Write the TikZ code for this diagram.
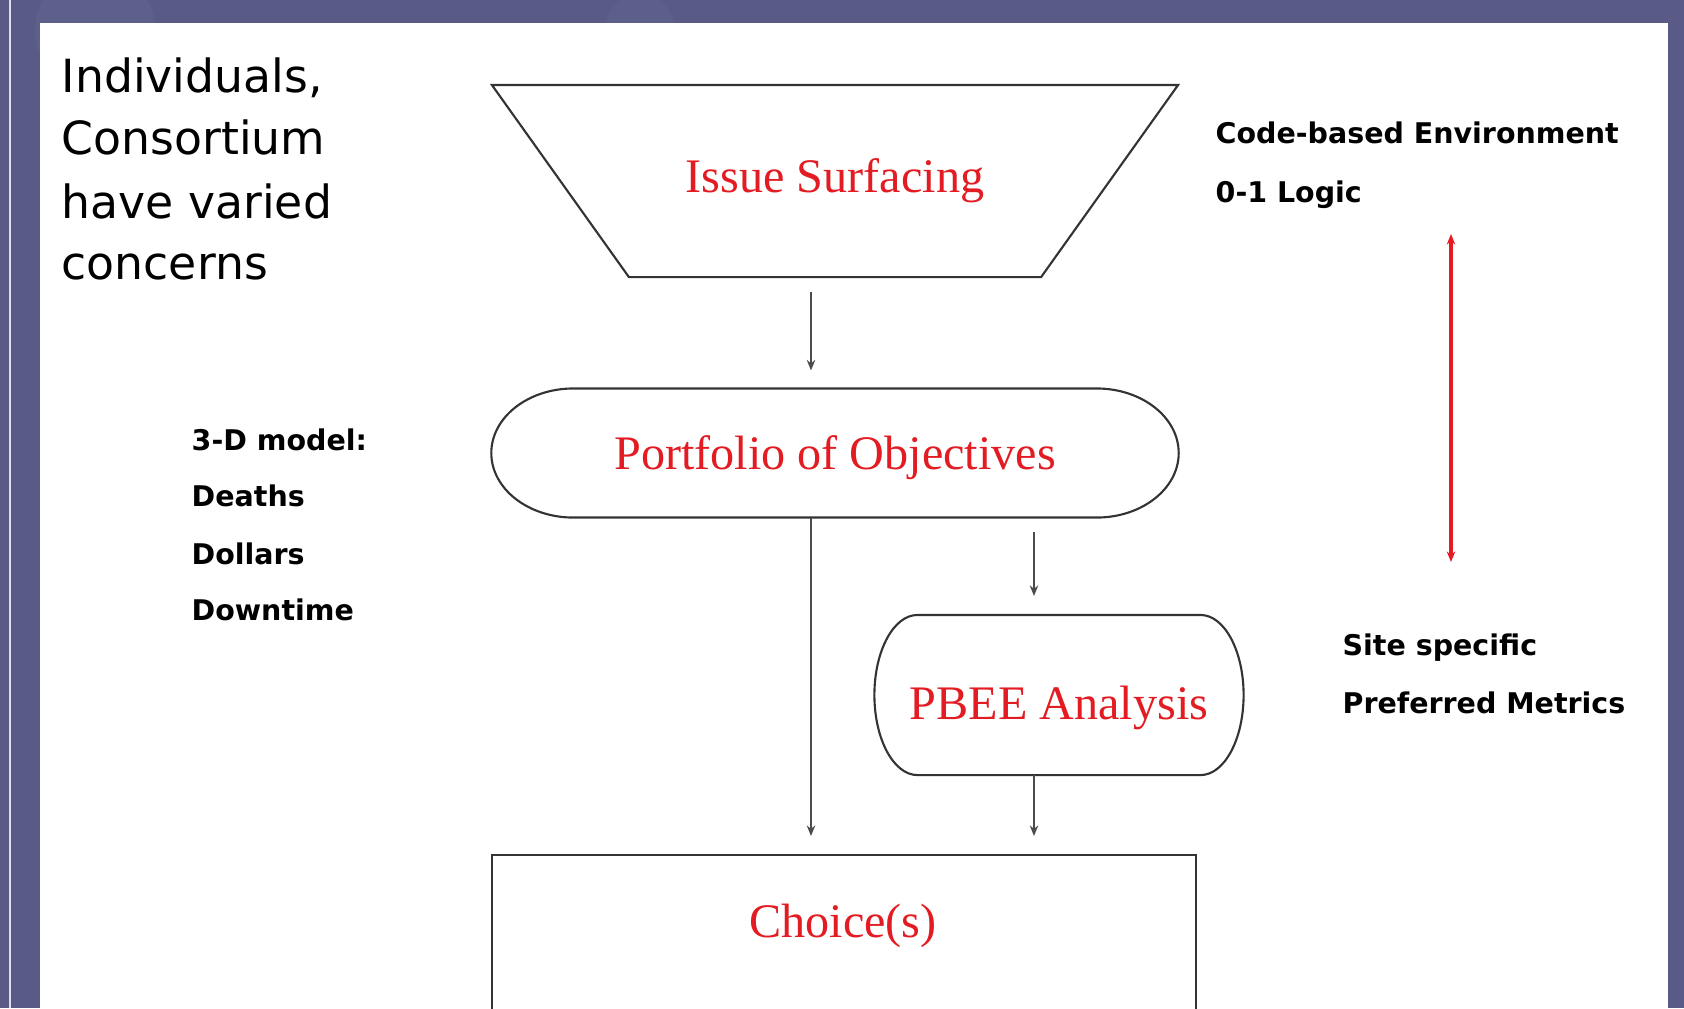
\documentclass[tikz,border=0pt]{standalone}
\usepackage{fontspec}
\setmainfont{Liberation Serif}
\newfontfamily\vsans{DejaVu Sans}
\usetikzlibrary{arrows.meta}
\definecolor{framecol}{RGB}{89,91,134}
\definecolor{framelite}{RGB}{108,110,156}
\definecolor{slidered}{RGB}{226,28,34}
\tikzset{>={Stealth[length=3pt,width=2.4pt]}}

\begin{document}
\begin{tikzpicture}[x=0.01cm, y=-0.01cm,
    shapeline/.style={draw=black!80, line width=0.6pt},
    arr/.style={->, draw=black!70, line width=0.5pt},
    redtxt/.style={text=slidered, font=\fontsize{13.7}{16}\selectfont, inner sep=0pt, outer sep=0pt},
    bigtxt/.style={anchor=base west, inner sep=0pt, font=\vsans\fontsize{13}{16}\selectfont},
    boldtxt/.style={anchor=base west, inner sep=0pt, font=\vsans\bfseries\fontsize{8.1}{10}\selectfont}]
    \useasboundingbox (0,0) rectangle (1684,1008);
    \clip (0,0) rectangle (1684,1008);
    % slide frame
    \fill[framecol] (0,0) rectangle (1684,1008);
    \fill[framelite, opacity=0.3] (95,30) circle[radius=0.6cm];
    \fill[framelite, opacity=0.25] (640,30) circle[radius=0.35cm];
    \draw[white!80!framecol, line width=0.6pt] (10,0) -- (10,1008);
    \fill[white] (40,23) rectangle (1668,1012);
    % left texts
    \node[bigtxt] (who1) at (61,92) {Individuals,};
    \node[bigtxt] (who2) at (61,154) {Consortium};
    \node[bigtxt] (who3) at (61,218) {have varied};
    \node[bigtxt] (who4) at (61,279) {concerns};
    \node[boldtxt] (model) at (191,450) {3-D model:};
    \node[boldtxt] (deaths) at (191,506) {Deaths};
    \node[boldtxt] (dollars) at (191,564) {Dollars};
    \node[boldtxt] (downtime) at (191,620) {Downtime};
    % right texts
    \node[boldtxt] (code) at (1215,143) {Code-based Environment};
    \node[boldtxt] (logic) at (1215,202) {0-1 Logic};
    \node[boldtxt] (site) at (1342,655) {Site specific};
    \node[boldtxt] (metrics) at (1342,713) {Preferred Metrics};
    \coordinate (spanA) at (1451,234);
    \coordinate (spanB) at (1451,562);
    \draw[<->, slidered, line width=0.9pt] (spanA) -- (spanB);
    % flow chart
    \node[redtxt, minimum width=4.12cm, minimum height=1.92cm] (issue) at (835,181) {Issue Surfacing};
    \draw[shapeline] ([shift={(-137,0)}]issue.north west) -- ([shift={(137,0)}]issue.north east)
        -- (issue.south east) -- (issue.south west) -- cycle;
    \node[redtxt, minimum width=5.23cm, minimum height=1.29cm] (objectives) at (835,453) {\raisebox{-4.8pt}[0pt][0pt]{Portfolio of Objectives}};
    \draw[shapeline] (objectives.north west) -- (objectives.north east)
        arc[start angle=90, end angle=-90, x radius=0.82cm, y radius=0.645cm]
        -- (objectives.south west)
        arc[start angle=270, end angle=90, x radius=0.82cm, y radius=0.645cm] -- cycle;
    \node[redtxt, minimum width=2.83cm, minimum height=1.6cm] (pbee) at (1059,695) {\raisebox{-6.9pt}[0pt][0pt]{\makebox[0pt]{PBEE Analysis}}};
    \draw[shapeline] (pbee.north west) -- (pbee.north east)
        arc[start angle=90, end angle=-90, x radius=0.43cm, y radius=0.8cm]
        -- (pbee.south west)
        arc[start angle=270, end angle=90, x radius=0.43cm, y radius=0.8cm] -- cycle;
    \node[shapeline, minimum width=7.04cm, minimum height=2.6cm, anchor=north] (choice) at (844,854) {};
    \node[redtxt] (choicetxt) at (843,926) {Choice(s)};
    \draw[arr] ([shift={(-24,15)}]issue.south) -- ([shift={(-24,-18)}]objectives.north);
    \draw[arr] ([shift={(-24,0)}]objectives.south) -- ([shift={(-33,-18)}]choice.north);
    \draw[arr] ([shift={(199,14)}]objectives.south) -- ([shift={(-25,-19)}]pbee.north);
    \draw[arr] ([shift={(-25,0)}]pbee.south) -- ([shift={(190,-18)}]choice.north);
\end{tikzpicture}
\end{document}
